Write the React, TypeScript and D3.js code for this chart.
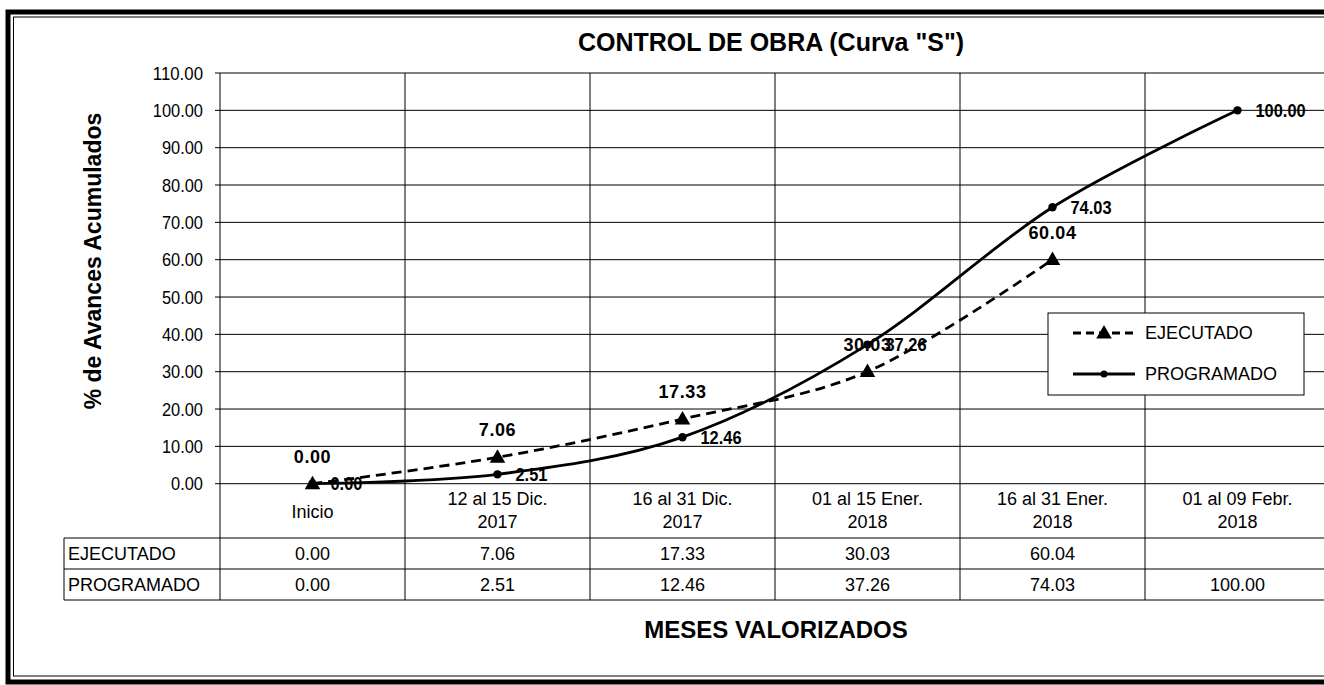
import React from 'react'
import * as d3 from 'd3'

const categories = ['Inicio', '12 al 15 Dic.', '16 al 31 Dic.', '01 al 15 Ener.', '16 al 31 Ener.', '01 al 09 Febr.']
const categoryYears = ['', '2017', '2017', '2018', '2018', '2018']
const ejecutado = [0.0, 7.06, 17.33, 30.03, 60.04]
const programado = [0.0, 2.51, 12.46, 37.26, 74.03, 100.0]
const yTicks = [0, 10, 20, 30, 40, 50, 60, 70, 80, 90, 100, 110]

const W = 1324
const H = 685
const left = 220
const top = 73
const bottom = 483.7
const tableRows = [538, 569, 600]
const sans = 'Liberation Sans, Arial, sans-serif'

// squeeze a number label like a narrow font would (digits ~0.456em, dot ~0.228em)
const narrowLen = (s: string, size: number) =>
  s.split('').reduce((a, ch) => a + (ch === '.' ? 0.228 : 0.456), 0) * size

const App = () => {
  const x = d3.scaleBand<string>().domain(categories).range([left, 1330])
  const y = d3.scaleLinear().domain([0, 110]).range([bottom, top])
  const cx = (i: number) => (x(categories[i]) as number) + x.bandwidth() / 2
  const fmt = d3.format('.2f')

  // smoothed line, like the spreadsheet's
  const line = d3
    .line<number>()
    .x((_, i) => cx(i))
    .y((d) => y(d))
    .curve(d3.curveCatmullRom.alpha(0))

  const tri = d3.symbol().type(d3.symbolTriangle).size(105)
  const bounds = categories.map((c) => x(c) as number).concat([1330])

  return (
    <svg width={W} height={H} style={{ position: 'absolute', left: 0, top: 0, background: '#fff' }}>
      {/* frame */}
      <rect x={8} y={12} width={1400} height={670} fill="#fff" stroke="#000" strokeWidth={5} />
      <rect x={13.5} y={17} width={1400} height={659} fill="none" stroke="#000" strokeWidth={1} />

      <text x={771} y={51} textAnchor="middle" fontFamily={sans} fontWeight="bold" fontSize={25}>
        CONTROL DE OBRA (Curva "S")
      </text>

      {/* horizontal grid + y ticks */}
      {yTicks.map((t) => (
        <g key={t}>
          <line x1={left - 5} x2={W} y1={y(t)} y2={y(t)} stroke="#000" strokeWidth={1} />
          <text
            x={203}
            y={y(t) + 6.5}
            textAnchor="end"
            fontFamily={sans}
            fontSize={18}
            textLength={narrowLen(fmt(t), 20)}
            lengthAdjust="spacingAndGlyphs"
          >
            {fmt(t)}
          </text>
        </g>
      ))}

      {/* vertical grid lines down through the table */}
      {bounds.map((b, i) => (
        <line key={i} x1={b} x2={b} y1={top} y2={tableRows[2]} stroke="#000" strokeWidth={1} />
      ))}

      {/* data table */}
      {tableRows.map((r) => (
        <line key={r} x1={64} x2={W} y1={r} y2={r} stroke="#000" strokeWidth={1} />
      ))}
      <line x1={64} x2={64} y1={tableRows[0]} y2={tableRows[2]} stroke="#000" strokeWidth={1} />

      {categories.map((c, i) =>
        categoryYears[i] ? (
          <g key={c}>
            <text x={cx(i)} y={505} textAnchor="middle" fontFamily={sans} fontSize={18}>{c}</text>
            <text x={cx(i)} y={528} textAnchor="middle" fontFamily={sans} fontSize={18}>{categoryYears[i]}</text>
          </g>
        ) : (
          <text key={c} x={cx(i)} y={518} textAnchor="middle" fontFamily={sans} fontSize={18}>{c}</text>
        )
      )}
      <text x={68} y={560} fontFamily={sans} fontSize={18}>EJECUTADO</text>
      <text x={68} y={591} fontFamily={sans} fontSize={18}>PROGRAMADO</text>
      {ejecutado.map((v, i) => (
        <text key={i} x={cx(i)} y={560} textAnchor="middle" fontFamily={sans} fontSize={18}>{fmt(v)}</text>
      ))}
      {programado.map((v, i) => (
        <text key={i} x={cx(i)} y={591} textAnchor="middle" fontFamily={sans} fontSize={18}>{fmt(v)}</text>
      ))}

      <text x={776} y={638} textAnchor="middle" fontFamily={sans} fontWeight="bold" fontSize={24}>
        MESES VALORIZADOS
      </text>

      <text
        transform="translate(101 261) rotate(-90)"
        textAnchor="middle"
        fontFamily={sans}
        fontWeight="bold"
        fontSize={23}
      >
        % de Avances Acumulados
      </text>

      {/* series */}
      <path d={line(programado) || ''} fill="none" stroke="#000" strokeWidth={2.8} />
      <path d={line(ejecutado) || ''} fill="none" stroke="#000" strokeWidth={2.8} strokeDasharray="10 6" />

      {programado.map((v, i) => (
        <g key={i}>
          <circle cx={cx(i)} cy={y(v)} r={4.2} fill="#000" />
          <text
            x={cx(i) + 18}
            y={y(v) + 6.5}
            fontFamily={sans}
            fontWeight="bold"
            fontSize={18}
            textLength={narrowLen(fmt(v), 20)}
            lengthAdjust="spacingAndGlyphs"
          >
            {fmt(v)}
          </text>
        </g>
      ))}
      {ejecutado.map((v, i) => (
        <g key={i}>
          <path d={tri() || ''} transform={`translate(${cx(i)} ${y(v) + 1})`} fill="#000" />
          <text x={cx(i)} y={y(v) - 21} textAnchor="middle" fontFamily={sans} fontWeight="bold" fontSize={18} letterSpacing={0.6}>
            {fmt(v)}
          </text>
        </g>
      ))}

      {/* legend */}
      <rect x={1048} y={313} width={256} height={82} fill="#fff" stroke="#000" strokeWidth={1} />
      <line x1={1073} x2={1135} y1={333} y2={333} stroke="#000" strokeWidth={2.8} strokeDasharray="8 5" />
      <path d={tri() || ''} transform="translate(1104 334)" fill="#000" />
      <text x={1145} y={339} fontFamily={sans} fontSize={18}>EJECUTADO</text>
      <line x1={1073} x2={1135} y1={374} y2={374} stroke="#000" strokeWidth={2.8} />
      <circle cx={1104} cy={374} r={3.5} fill="#000" />
      <text x={1145} y={380} fontFamily={sans} fontSize={18}>PROGRAMADO</text>
    </svg>
  )
}

export default App
